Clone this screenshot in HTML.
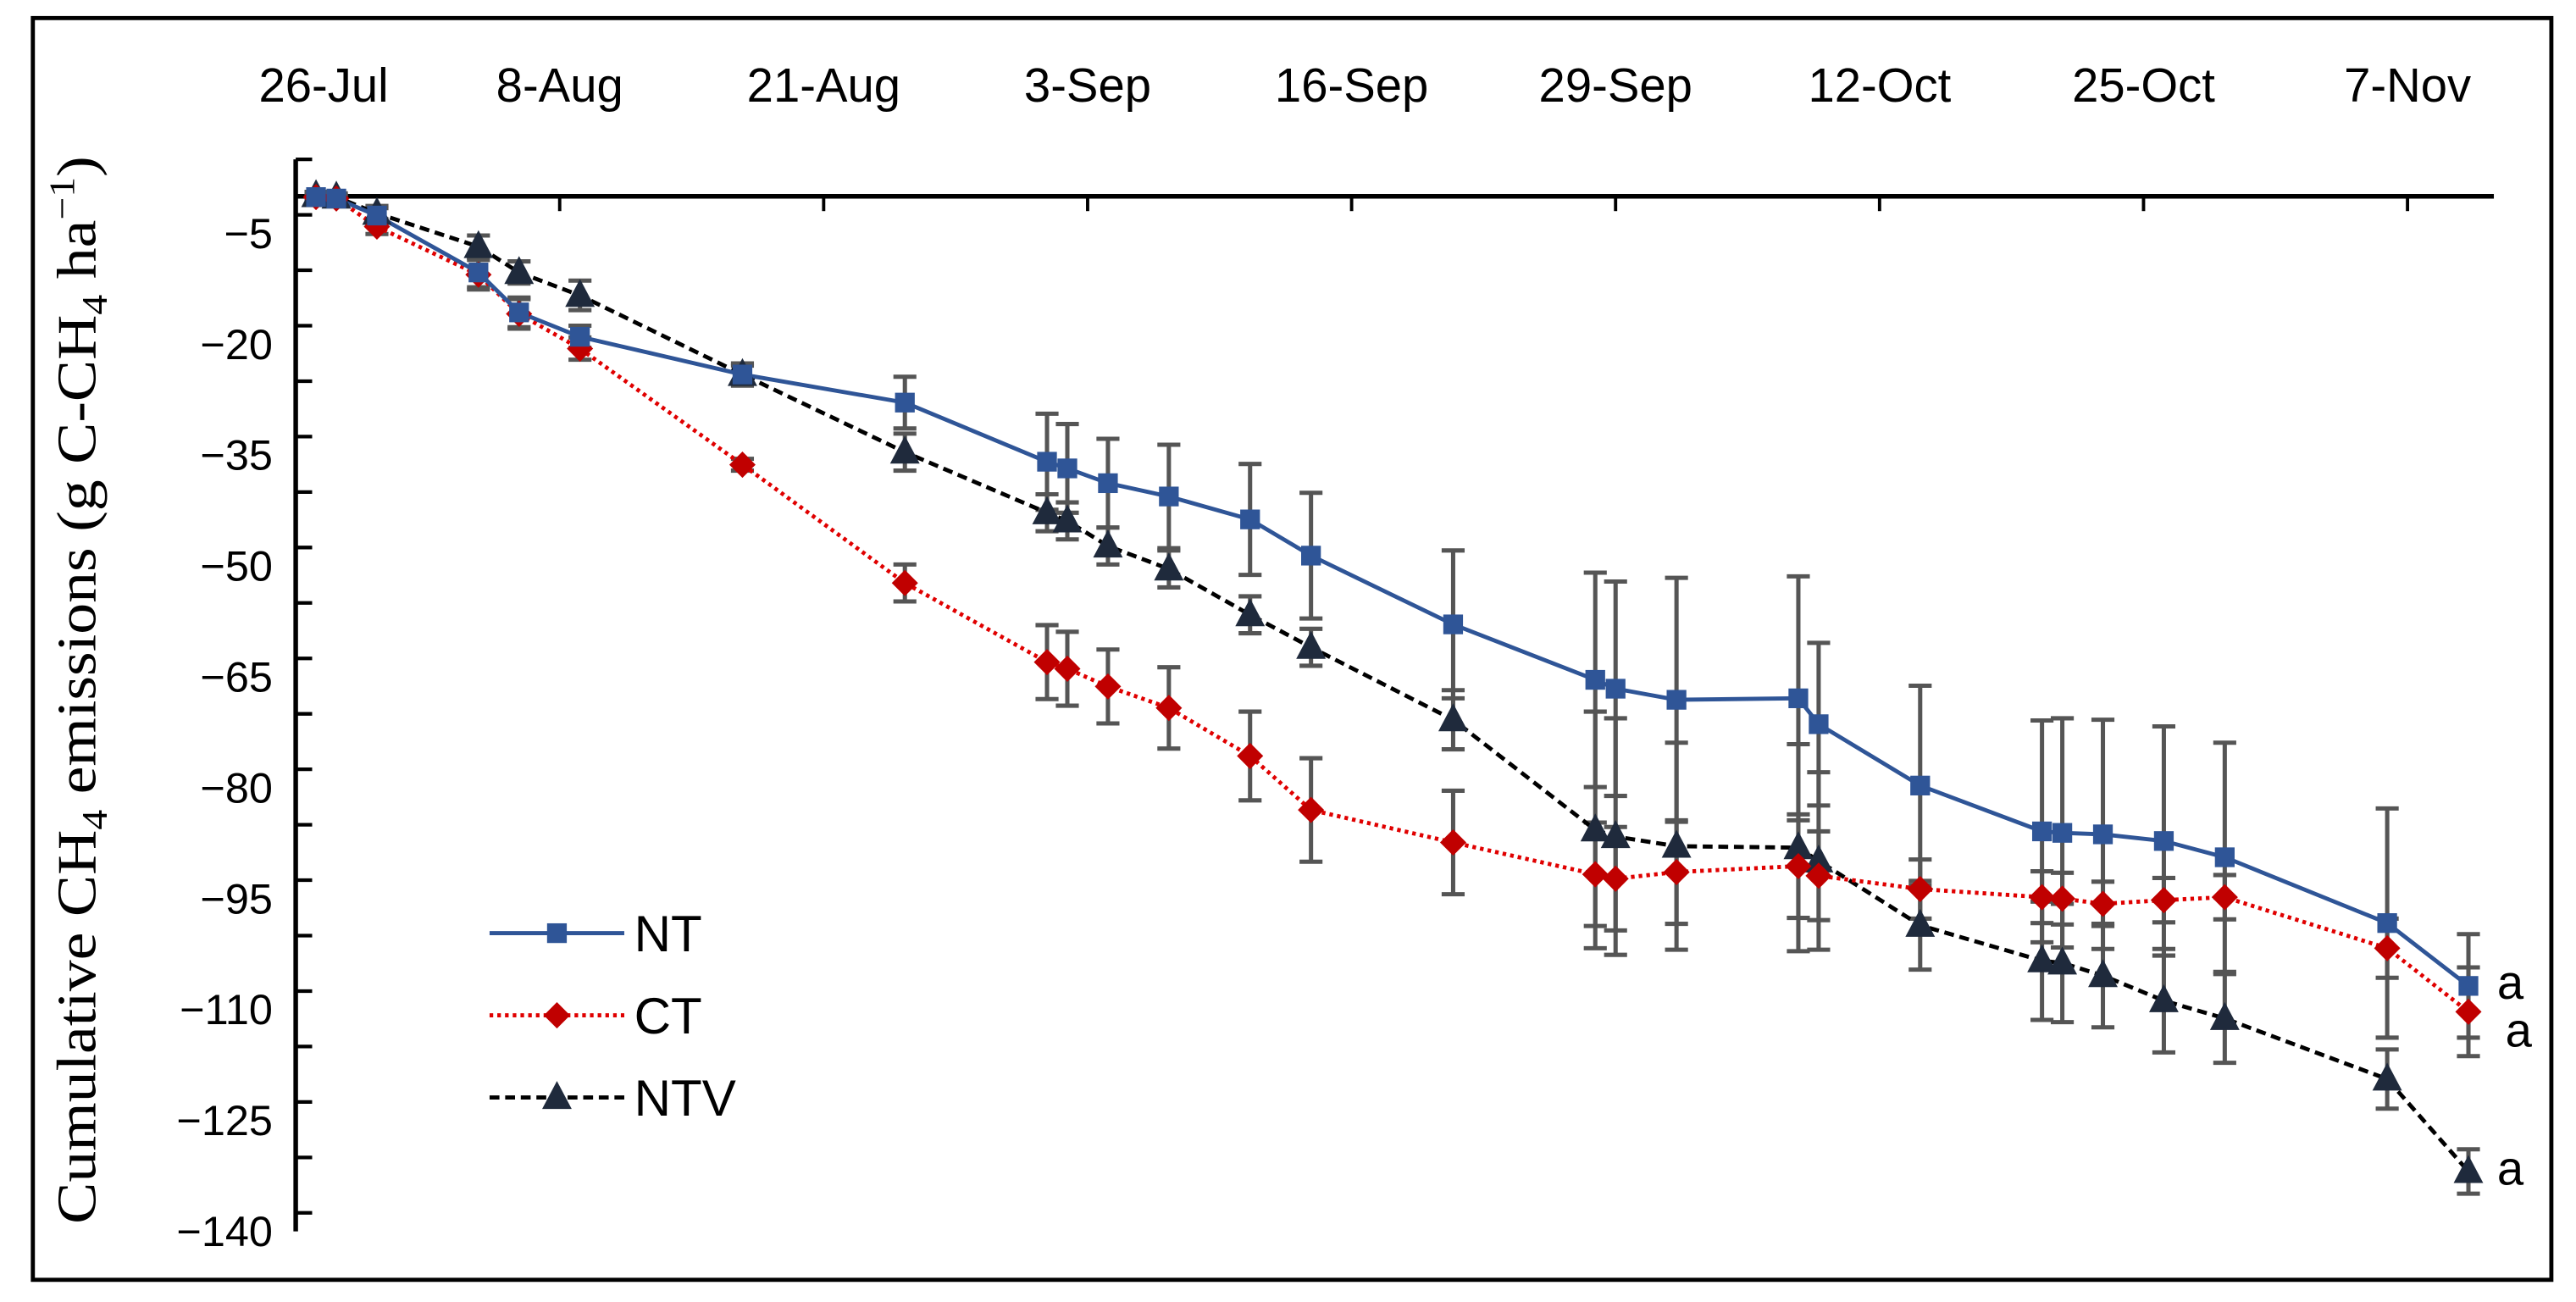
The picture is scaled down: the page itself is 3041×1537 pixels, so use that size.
<!DOCTYPE html>
<html><head><meta charset="utf-8">
<style>
html,body{margin:0;padding:0;background:#fff;}
svg{display:block;}
text{font-family:"Liberation Sans",Arial,sans-serif;}
</style></head>
<body>
<svg id="chart" width="3041" height="1537" viewBox="0 0 1568 792.5" preserveAspectRatio="none" xmlns="http://www.w3.org/2000/svg">
<rect x="20" y="11" width="1533" height="768" fill="none" stroke="#000" stroke-width="2.5"/>
<g id="axes"></g>
<g id="series"></g>
<text transform="translate(58,420) rotate(-90)" text-anchor="middle" font-size="34" textLength="650" lengthAdjust="spacingAndGlyphs" style="font-family:'Liberation Serif',serif">Cumulative CH<tspan font-size="22" dy="7">4</tspan><tspan dy="-7"> emissions (g C-CH</tspan><tspan font-size="22" dy="7">4</tspan><tspan dy="-7"> ha</tspan><tspan font-size="22" dy="-13">−1</tspan><tspan dy="13">)</tspan></text>
<g>
<g>
<line x1="298" y1="568" x2="380" y2="568" stroke="#2F5597" stroke-width="2.5"/>
<rect x="333" y="562" width="12" height="12" fill="#2F5597"/>
<text x="386" y="579" font-size="31">NT</text></g>
<g>
<line x1="298" y1="618" x2="380" y2="618" stroke="#E00000" stroke-width="2.5" stroke-dasharray="2.2,2.5"/>
<path d="M339,610 L347,618 L339,626 L331,618Z" fill="#C00000"/>
<text x="386" y="629" font-size="31">CT</text></g>
<g>
<line x1="298" y1="668" x2="380" y2="668" stroke="#000" stroke-width="2.5" stroke-dasharray="6,3.5"/>
<path d="M339,658 L348,675 L330,675Z" fill="#1F2A3C"/>
<text x="386" y="679" font-size="31">NTV</text></g>
</g>
<text x="1520" y="608" font-size="29">a</text>
<text x="1525" y="637" font-size="29">a</text>
<text x="1520" y="721" font-size="29">a</text>
</svg>
<script>
const xTickLabels=["26-Jul","8-Aug","21-Aug","3-Sep","16-Sep","29-Sep","12-Oct","25-Oct","7-Nov"];
const xTickDays=[0,13,26,39,52,65,78,91,104];
const yTickValues=[-5,-20,-35,-50,-65,-80,-95,-110,-125,-140];
const days=[1,2,4,9,11,14,22,30,37,38,40,43,47,50,57,64,65,68,74,75,80,86,87,89,92,95,103,107];
const ntValues=[-0.1,-0.3,-2.6,-10.3,-15.7,-19,-24.1,-27.9,-35.9,-36.8,-38.8,-40.6,-43.7,-48.6,-57.9,-65.4,-66.6,-68.1,-67.9,-71.4,-79.7,-85.9,-86.1,-86.3,-87.2,-89.4,-98.3,-106.8];
const ntErrors=[0.5,0.5,1,2,2,1.5,1.2,3.5,6.5,6,6,7,7.5,8.5,10,14.5,14.5,16.5,16.5,11,13.5,15,15.5,15.5,15.5,15.5,15.5,7];
const ctValues=[-0.1,-0.3,-4.1,-10.6,-15.9,-20.6,-36.3,-52.3,-63,-63.9,-66.3,-69.2,-75.7,-83,-87.4,-91.7,-92.3,-91.4,-90.6,-91.9,-93.7,-94.8,-95,-95.7,-95.2,-94.8,-101.7,-110.3];
const ctErrors=[0.5,0.5,1,2,2,1.5,0.8,2.5,5,5,5,5.5,6,7,7,7,7,7,7,6,4,3.5,3.5,3,3,3,4,6];
const ntvValues=[0.1,-0.1,-2.3,-6.8,-10.3,-13.4,-24.1,-34.6,-42.8,-43.9,-47.3,-50.4,-56.6,-61,-70.8,-85.7,-86.6,-87.9,-88.1,-89.9,-98.6,-103.4,-103.7,-105.4,-108.8,-111.2,-119.4,-131.9];
const ntvErrors=[0.5,0.5,1,1.5,1.5,2,1.5,2.5,2.5,2.5,2.5,2.5,2.5,2.5,4,16,16,14,14,12,6,8,8,7,7,6,4,3];

const NS="http://www.w3.org/2000/svg";
const X0=180, PXD=12.36;
function xScale(d){return X0+d*PXD;}
function yScale(v){return 142+(-5-v)/15*67.5;}
function mk(tag,attrs,parent){const e=document.createElementNS(NS,tag);for(const k in attrs)e.setAttribute(k,attrs[k]);parent.appendChild(e);return e;}
const axes=document.getElementById('axes');
const series=document.getElementById('series');
let ya=mk('line',{x1:X0,y1:yScale(5),x2:X0,y2:yScale(-140),stroke:'#000','stroke-width':2.8},axes);


for(let v=5;v>=-140;v-=7.5){
  mk('line',{x1:X0,y1:yScale(v),x2:X0+10,y2:yScale(v),stroke:'#000','stroke-width':2.2},axes);
}
yTickValues.forEach(v=>{
  const t=mk('text',{x:166,y:yScale(v)+9,'text-anchor':'end','font-size':26},axes);
  t.textContent='\u2212'+Math.abs(v);
  
  
});
let xa=mk('line',{x1:X0,y1:yScale(0),x2:1518,y2:yScale(0),stroke:'#000','stroke-width':2.8},axes);


xTickDays.forEach((d,i)=>{
  if(i>0) mk('line',{x1:xScale(d),y1:yScale(0),x2:xScale(d),y2:yScale(0)+9,stroke:'#000','stroke-width':2},axes);
  const t=mk('text',{x:xScale(d)+(i===0?17:0),y:62,'text-anchor':'middle','font-size':29},axes);
  t.textContent=xTickLabels[i];
  
  
});
function drawErr(vals,errs,name){
  const g=mk('g',{},series);
  
  
  days.forEach((d,i)=>{
    const x=xScale(d),y1=yScale(vals[i]+errs[i]),y2=yScale(vals[i]-errs[i]);
    mk('line',{x1:x,y1:y1,x2:x,y2:y2,stroke:'#555','stroke-width':2.6},g);
    mk('line',{x1:x-7,y1:y1,x2:x+7,y2:y1,stroke:'#555','stroke-width':2.6},g);
    mk('line',{x1:x-7,y1:y2,x2:x+7,y2:y2,stroke:'#555','stroke-width':2.6},g);
  });
}
function drawLine(vals,color,dash,width,name){
  const pts=days.map((d,i)=>xScale(d)+','+yScale(vals[i])).join(' ');
  const p=mk('polyline',{points:pts,fill:'none',stroke:color,'stroke-width':width,'stroke-dasharray':dash,'stroke-linejoin':'round'},series);
  
  
}
function drawMarkers(vals,shape,color,name){
  const g=mk('g',{},series);
  
  
  days.forEach((d,i)=>{
    const x=xScale(d),y=yScale(vals[i]);let m;
    if(shape==='square') m=mk('rect',{x:x-6,y:y-6,width:12,height:12,fill:color},g);
    else if(shape==='diamond') m=mk('path',{d:`M${x},${y-8} L${x+8},${y} L${x},${y+8} L${x-8},${y}Z`,fill:color},g);
    else m=mk('path',{d:`M${x},${y-10} L${x+9},${y+7} L${x-9},${y+7}Z`,fill:color},g);
    
    
  });
}
drawErr(ntValues,ntErrors,'nt');
drawErr(ctValues,ctErrors,'ct');
drawErr(ntvValues,ntvErrors,'ntv');
drawLine(ntvValues,'#000','6,3.5',2.5,'ntv');
drawLine(ctValues,'#E00000','2.2,2.5',2.5,'ct');
drawLine(ntValues,'#2F5597','',2.5,'nt');
drawMarkers(ntvValues,'triangle','#1F2A3C','ntv');
drawMarkers(ctValues,'diamond','#C00000','ct');
drawMarkers(ntValues,'square','#2F5597','nt');
</script>
</body></html>
